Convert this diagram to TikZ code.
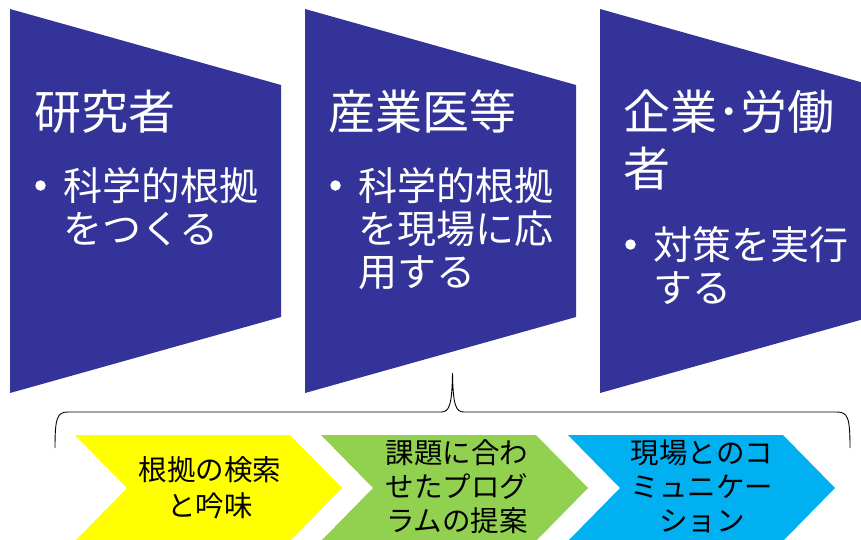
\documentclass[tikz,border=0pt]{standalone}
\usepackage{fontspec}
\newfontfamily\jp{Noto Sans CJK JP}
\definecolor{trap}{HTML}{333399}
\definecolor{cyel}{HTML}{FFFF00}
\definecolor{cgrn}{HTML}{92D050}
\definecolor{cblu}{HTML}{00B0F0}
\tikzset{
  ttl/.style={font=\jp\fontsize{47}{56}\selectfont, text=white, inner sep=0pt, anchor=base west},
  btxt/.style={font=\jp\fontsize{39}{43}\selectfont, text=white, inner sep=0pt, anchor=base west},
  ctxt/.style={font=\jp\fontsize{28.5}{34}\selectfont, text=black, inner sep=0pt, anchor=base},
  bul/.style={circle, fill=white, inner sep=0pt, minimum size=10.5pt},
  brace/.style={draw=black, line width=0.9pt}
}
\begin{document}
\begin{tikzpicture}[x=1pt,y=-1pt]
\useasboundingbox (0,0) rectangle (861,539);
% trapezoids
\fill[trap] (10,9) -- (281,85) -- (281,317) -- (10,393) -- cycle;
\fill[trap] (305,9) -- (576,85) -- (576,317) -- (305,393) -- cycle;
\fill[trap] (600,9) -- (861,82.2) -- (861,319.8) -- (600,393) -- cycle;
% box 1
\node[ttl] (t1) at (34,129) {研究者};
\node[bul] (b1) at (40.5,185.5) {};
\node[btxt] (t1a) at (63,200) {科学的根拠};
\node[btxt] (t1b) at (63,243) {をつくる};
% box 2
\node[ttl] (t2) at (328,129) {産業医等};
\node[bul] (b2) at (335.5,185.5) {};
\node[btxt] (t2a) at (358,200) {科学的根拠};
\node[btxt] (t2b) at (358,243) {を現場に応};
\node[btxt] (t2c) at (358,286) {用する};
% box 3
\node[ttl] (t3) at (623,129) {企業･労働};
\node[ttl] (t3b) at (623,186) {者};
\node[bul] (b3) at (630.5,244.5) {};
\node[btxt] (t3c) at (653,259) {対策を実行};
\node[btxt] (t3d) at (653,302) {する};
% brace
\coordinate (bl) at (55,448);
\coordinate (tip) at (452.5,373);
\coordinate (br) at (850,448);
\draw[brace] (bl) .. controls (55,418) and (57,412) .. (68,412) -- (441,412)
  .. controls (449,412) and (452,406) .. (tip)
  .. controls (453,406) and (456,412) .. (464,412) -- (837,412)
  .. controls (848,412) and (850,418) .. (br);
% chevrons
\fill[cyel] (75,435) -- (290,435) -- (342,488) -- (290,541) -- (75,541) -- (127,488) -- cycle;
\fill[cgrn] (321,435) -- (536,435) -- (588,488) -- (536,541) -- (321,541) -- (373,488) -- cycle;
\fill[cblu] (568,435) -- (783,435) -- (835,488) -- (783,541) -- (568,541) -- (620,488) -- cycle;
% chevron texts
\node[ctxt] (y1) at (210,480) {根拠の検索};
\node[ctxt] (y2) at (210,516) {と吟味};
\node[ctxt] (g1) at (457,463) {課題に合わ};
\node[ctxt] (g2) at (457,497) {せたプログ};
\node[ctxt] (g3) at (457,531) {ラムの提案};
\node[ctxt] (c1) at (702,463) {現場とのコ};
\node[ctxt] (c2) at (702,497) {ミュニケー};
\node[ctxt] (c3) at (702,531) {ション};
\end{tikzpicture}
\end{document}
